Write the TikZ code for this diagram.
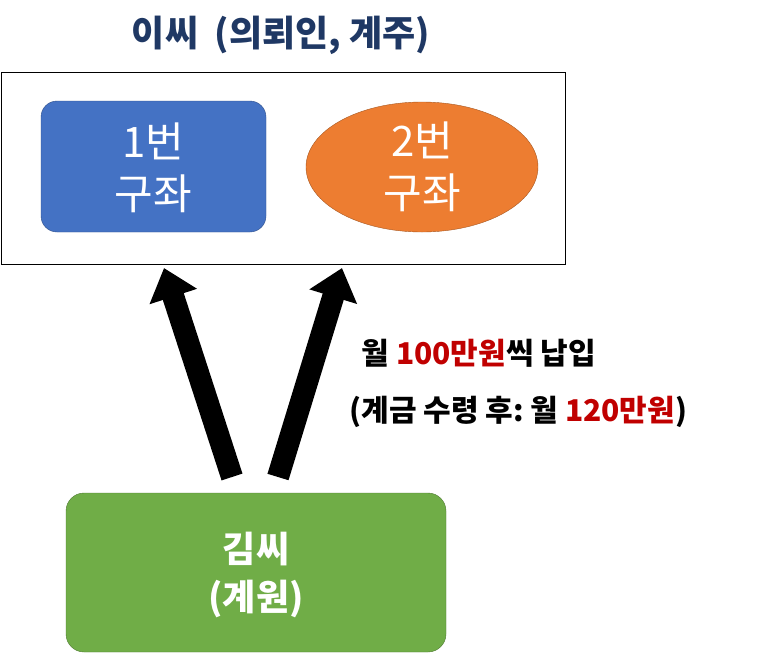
\documentclass[tikz,border=0pt]{standalone}
\usepackage{fontspec}
\setmainfont{Noto Sans CJK KR}
\usetikzlibrary{arrows.meta,shapes.geometric}
\definecolor{tblue}{HTML}{1F3864}
\definecolor{dred}{HTML}{C00000}
\definecolor{bfill}{HTML}{4472C4}
\definecolor{ofill}{HTML}{ED7D31}
\definecolor{gfill}{HTML}{70AD47}
\tikzset{
 big/.style={font=\fontsize{42}{52}\selectfont, text=white, align=center},
 fat/.style={line width=22pt, -{Triangle[length=30pt,width=48pt]}},
 lbl/.style={font=\bfseries\fontsize{30}{34}\selectfont, anchor=west}
}
\begin{document}
\begin{tikzpicture}[x=1pt,y=-1pt]
\useasboundingbox (0,0) rectangle (761,654);
\node[font=\bfseries\fontsize{36}{40}\selectfont, text=tblue] (title) at (281,35) {이씨\ \ (의뢰인,\ 계주)};
\draw (1,72) rectangle (565,264);
\draw[fill=bfill, draw=bfill!70!black, rounded corners=16pt] (41,101) rectangle (266,232);
\node[big] (b1) at (153,168) {1번\\구좌};
\node[ellipse, fill=ofill, draw=ofill!70!black, minimum width=232pt, minimum height=130pt] (e2) at (422,167) {};
\node[big] at (e2) {2번\\구좌};
\draw[fill=gfill, draw=gfill!70!black, rounded corners=18pt] (66,493) rectangle (446,652);
\node[text=white, align=center, font=\bfseries\fontsize{36}{48}\selectfont] (g) at (256,575) {김씨\\(계원)};
\coordinate (s1) at (232,477); \coordinate (t1) at (164,268);
\coordinate (s2) at (278,477); \coordinate (t2) at (342,268);
\draw[fat] (s1) -- (t1);
\draw[fat] (s2) -- (t2);
\node[lbl] (l1) at (358,353) {월\ \textcolor{dred}{100만원}씩\ 납입};
\node[lbl] (l2) at (346,412) {(계금\ 수령\ 후:\ 월\ \textcolor{dred}{120만원})};
\end{tikzpicture}
\end{document}
